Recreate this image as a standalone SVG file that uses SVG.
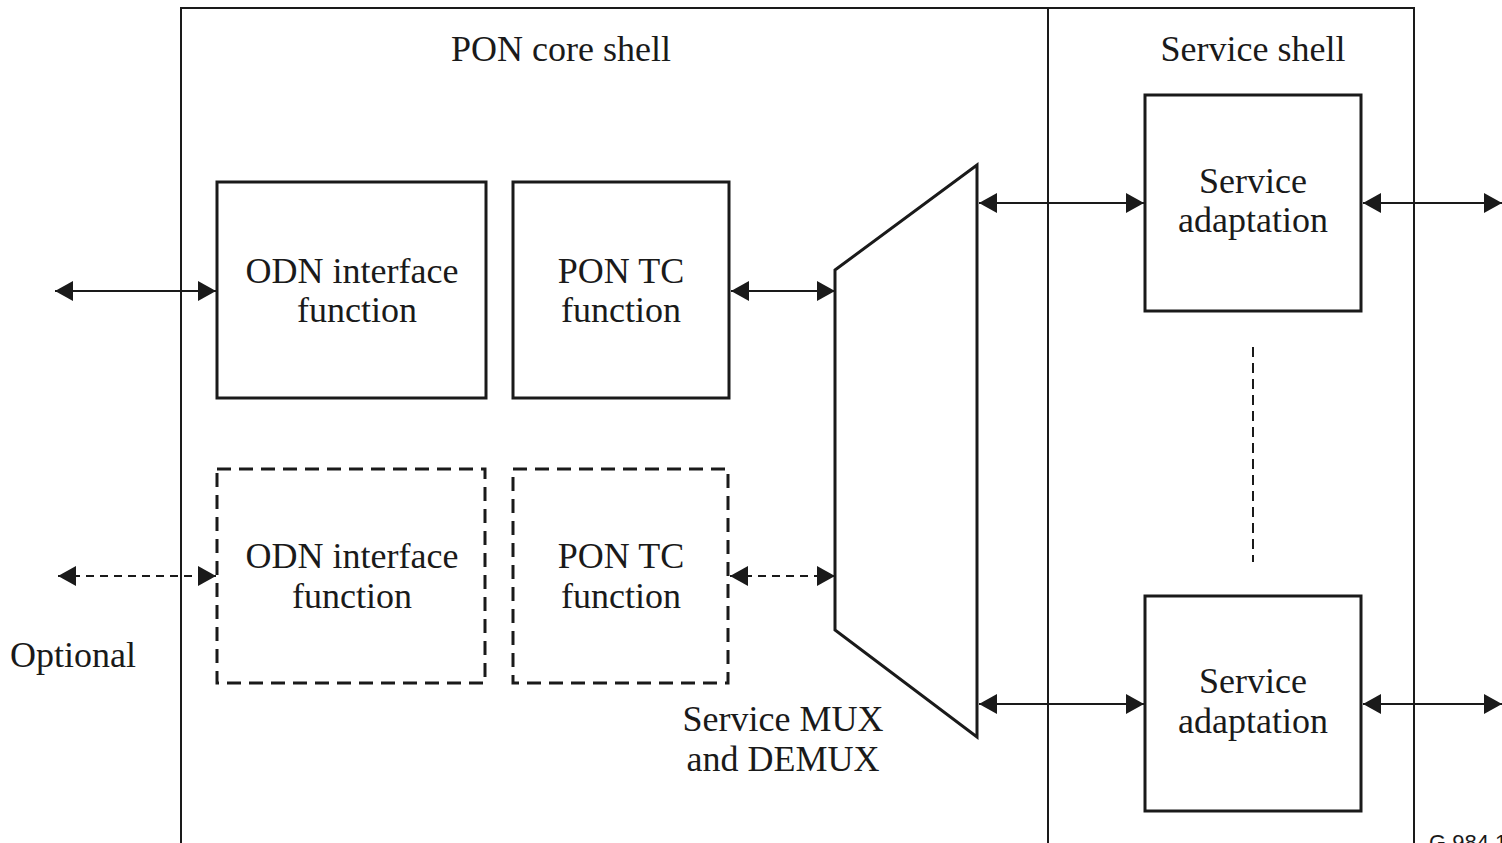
<svg xmlns="http://www.w3.org/2000/svg" width="1502" height="843" viewBox="0 0 1502 843">
<defs>
<marker id="ah" viewBox="0 0 18 20" refX="18" refY="10" markerWidth="18" markerHeight="20" markerUnits="userSpaceOnUse" orient="auto-start-reverse">
<path d="M0,0 L18,10 L0,20 Z" fill="#1a1a1a"/>
</marker>
<style>
.t{font-family:"Liberation Serif","Times New Roman",serif;font-size:36px;fill:#1a1a1a;text-anchor:middle}
.box{fill:none;stroke:#1a1a1a;stroke-width:3}
.dbox{fill:none;stroke:#1a1a1a;stroke-width:3;stroke-dasharray:14,8}
.frame{fill:none;stroke:#1a1a1a;stroke-width:2}
.c{stroke:#1a1a1a;stroke-width:2;fill:none;marker-start:url(#ah);marker-end:url(#ah)}
.dc{stroke:#1a1a1a;stroke-width:2;fill:none;stroke-dasharray:8,6;marker-start:url(#ah);marker-end:url(#ah)}
</style>
</defs>
<rect width="1502" height="843" fill="#fff"/>
<g id="frame">
<polyline class="frame" points="181,845 181,8 1414,8 1414,845"/>
<line class="frame" x1="1048" y1="8" x2="1048" y2="845"/>
<text class="t" x="561" y="61">PON core shell</text>
<text class="t" x="1253" y="61">Service shell</text>
</g>
<g id="odn1">
<rect class="box" x="217" y="182" width="269" height="216"/>
<text class="t" x="352" y="283">ODN interface</text>
<text class="t" x="357" y="322">function</text>
</g>
<g id="pontc1">
<rect class="box" x="513" y="182" width="216" height="216"/>
<text class="t" x="621" y="283">PON TC</text>
<text class="t" x="621" y="322">function</text>
</g>
<g id="odn2">
<rect class="dbox" x="217" y="469" width="268" height="214"/>
<text class="t" x="352" y="568">ODN interface</text>
<text class="t" x="352" y="608">function</text>
</g>
<g id="pontc2">
<rect class="dbox" x="513" y="469" width="215" height="214"/>
<text class="t" x="621" y="568">PON TC</text>
<text class="t" x="621" y="608">function</text>
</g>
<g id="mux">
<polygon class="box" points="835,270 977,165 977,737 835,630"/>
<text class="t" x="783" y="731">Service MUX</text>
<text class="t" x="783" y="771">and DEMUX</text>
</g>
<g id="sa1">
<rect class="box" x="1145" y="95" width="216" height="216"/>
<text class="t" x="1253" y="193">Service</text>
<text class="t" x="1253" y="232">adaptation</text>
</g>
<g id="sa2">
<rect class="box" x="1145" y="596" width="216" height="215"/>
<text class="t" x="1253" y="693">Service</text>
<text class="t" x="1253" y="733">adaptation</text>
</g>
<g id="optional">
<text class="t" x="10" y="667" style="text-anchor:start">Optional</text>
</g>
<g id="connectors">
<line class="c" x1="55" y1="291" x2="216" y2="291"/>
<line class="c" x1="731" y1="291" x2="835" y2="291"/>
<line class="dc" x1="58" y1="576" x2="216" y2="576"/>
<line class="dc" x1="730" y1="576" x2="835" y2="576"/>
<line class="c" x1="979" y1="203" x2="1144" y2="203"/>
<line class="c" x1="1363" y1="203" x2="1502" y2="203"/>
<line class="c" x1="979" y1="704" x2="1144" y2="704"/>
<line class="c" x1="1363" y1="704" x2="1502" y2="704"/>
<line x1="1253" y1="347" x2="1253" y2="562" stroke="#1a1a1a" stroke-width="2" stroke-dasharray="10,6"/>
</g>
<text x="1429" y="850" style="font-family:'Liberation Sans',Arial,sans-serif;font-size:22px;fill:#1a1a1a">G.984.1</text>
</svg>
